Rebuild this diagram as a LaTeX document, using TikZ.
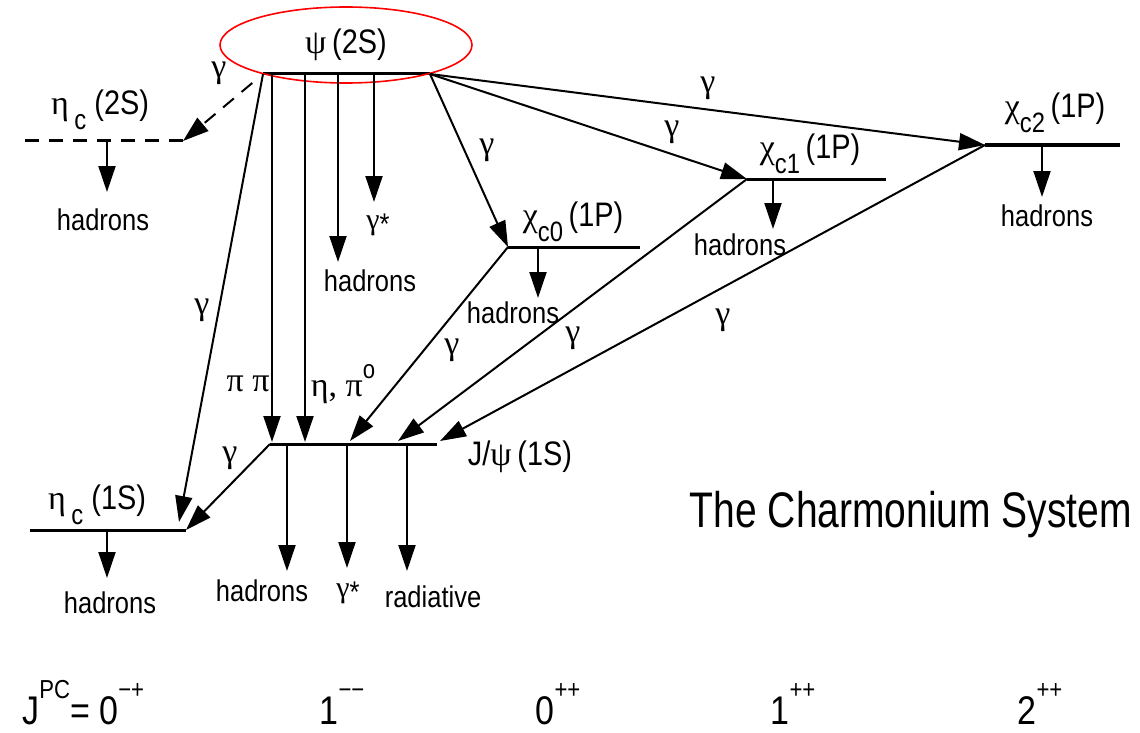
\documentclass[tikz,border=0pt]{standalone}
\usepackage{fontspec}
\setmainfont{Liberation Sans}[FakeStretch=0.85]
\newfontfamily\grk{Liberation Serif}
\newfontfamily\titlefont{Liberation Sans}[FakeStretch=0.78]
\usetikzlibrary{arrows.meta,shapes.geometric}

\newcommand{\gk}[1]{{\grk #1}}
\newcommand{\lo}[1]{\raisebox{-0.85ex}{\fontsize{14}{14}\selectfont #1}}
\newcommand{\hi}[1]{\raisebox{1.2ex}{\fontsize{13}{13}\selectfont #1}}
\newcommand{\virt}{\raisebox{-0.35ex}{*}}

\begin{document}
\begin{tikzpicture}[x=0.5pt,y=-0.5pt,
                    level/.style={line width=1.5pt},
                    decay/.style={line width=1pt,
                                  -{Triangle[length=13pt,width=8.5pt]}},
                    state/.style={inner sep=0pt,font=\fontsize{17}{20}\selectfont},
                    final/.style={inner sep=0pt,font=\fontsize{15}{18}\selectfont},
                    gam/.style={inner sep=0pt,font=\grk\fontsize{17}{20}\selectfont},
                    jpc/.style={inner sep=0pt,anchor=base,font=\fontsize{20}{24}\selectfont}]
  \useasboundingbox (0,0) rectangle (1140,733);

  % level ends
  \coordinate (psiL) at (263,74);   \coordinate (psiR) at (430,74);
  \coordinate (etaIIL) at (25,141); \coordinate (etaIIR) at (183,141);
  \coordinate (etaIL) at (30,530);  \coordinate (etaIR) at (186,530);
  \coordinate (jpsiL) at (270,444); \coordinate (jpsiR) at (437,444);
  \coordinate (chi0L) at (508,247); \coordinate (chi0R) at (640,247);
  \coordinate (chi1L) at (747,179); \coordinate (chi1R) at (886,179);
  \coordinate (chi2L) at (985,145); \coordinate (chi2R) at (1120,145);

  % levels
  \draw[level] (psiL) -- (psiR);
  \draw[level,dash pattern=on 7pt off 5pt] (etaIIL) -- (etaIIR);
  \draw[level] (etaIL) -- (etaIR);
  \draw[level] (jpsiL) -- (jpsiR);
  \draw[level] (chi0L) -- (chi0R);
  \draw[level] (chi1L) -- (chi1R);
  \draw[level] (chi2L) -- (chi2R);

  % state names
  \node[state,ellipse,draw=red,line width=0.8pt,
        minimum width=126pt,minimum height=38pt] (psi) at (346,45)
       {\gk{ψ}\,(2S)};
  \node[state] (etaII) at (100,110) {\gk{η}\,\lo{c} (2S)};
  \node[state] (etaI) at (97,505) {\gk{η}\,\lo{c} (1S)};
  \node[state] (jpsi) at (520,457) {J/\gk{ψ}\,(1S)};
  \node[state] (chi0) at (573,222) {\gk{χ}\lo{c0}\,(1P)};
  \node[state] (chi1) at (810,154) {\gk{χ}\lo{c1}\,(1P)};
  \node[state] (chi2) at (1055,113) {\gk{χ}\lo{c2}\,(1P)};

  % radiative transitions
  \coordinate (etaIg) at (179,522);
  \coordinate (jpsiA) at (350,441);
  \coordinate (jpsiB) at (398,441);
  \coordinate (jpsiC) at (440,441);
  \draw[decay,dash pattern=on 7pt off 5pt,shorten <=7pt] (psiL) -- (etaIIR);
  \draw[decay] (psiL) -- (etaIg);
  \draw[decay] (psiR) -- (chi0L);
  \draw[decay] (psiR) -- (chi1L);
  \draw[decay] (psiR) -- (chi2L);
  \draw[decay] (chi0L) -- (jpsiA);
  \draw[decay] (chi1L) -- (jpsiB);
  \draw[decay] (chi2L) -- (jpsiC);
  \draw[decay] (jpsiL) -- (etaIR);
  \node[gam] (g1) at (219,73) {γ};
  \node[gam] (g2) at (202,310) {γ};
  \node[gam] (g3) at (487,150) {γ};
  \node[gam] (g4) at (672,132) {γ};
  \node[gam] (g5) at (708,88) {γ};
  \node[gam] (g6) at (452,350) {γ};
  \node[gam] (g7) at (573,338) {γ};
  \node[gam] (g8) at (723,320) {γ};
  \node[gam] (g9) at (230,458) {γ};

  % hadronic transitions psi(2S) -> J/psi
  \coordinate (pipiT) at (272,74);  \coordinate (pipiB) at (272,442);
  \coordinate (etapiT) at (305,74); \coordinate (etapiB) at (305,442);
  \draw[decay] (pipiT) -- (pipiB);
  \draw[decay] (etapiT) -- (etapiB);
  \node[gam] (pipi) at (248,384) {π π};
  \node[gam] (etapi) at (343,384) {η, π\hi{\rmfamily o}};

  % decays
  \coordinate (psiHT) at (338,74);   \coordinate (psiHB) at (338,262);
  \coordinate (psiGT) at (374,74);   \coordinate (psiGB) at (374,202);
  \coordinate (etaIIHT) at (107,142); \coordinate (etaIIHB) at (107,192);
  \coordinate (etaIHT) at (107,531);  \coordinate (etaIHB) at (107,578);
  \coordinate (chi0HT) at (538,248);  \coordinate (chi0HB) at (538,298);
  \coordinate (chi1HT) at (773,180);  \coordinate (chi1HB) at (773,229);
  \coordinate (chi2HT) at (1042,146); \coordinate (chi2HB) at (1042,197);
  \coordinate (jpsiHT) at (287,445);  \coordinate (jpsiHB) at (287,571);
  \coordinate (jpsiGT) at (347,445);  \coordinate (jpsiGB) at (347,568);
  \coordinate (jpsiRT) at (407,445);  \coordinate (jpsiRB) at (407,571);
  \draw[decay] (psiHT) -- (psiHB);
  \draw[decay] (psiGT) -- (psiGB);
  \draw[decay] (etaIIHT) -- (etaIIHB);
  \draw[decay] (etaIHT) -- (etaIHB);
  \draw[decay] (chi0HT) -- (chi0HB);
  \draw[decay] (chi1HT) -- (chi1HB);
  \draw[decay] (chi2HT) -- (chi2HB);
  \draw[decay] (jpsiHT) -- (jpsiHB);
  \draw[decay] (jpsiGT) -- (jpsiGB);
  \draw[decay] (jpsiRT) -- (jpsiRB);
  \node[final] (psiH) at (370,281) {hadrons};
  \node[final] (psiG) at (378,225) {\gk{γ}\virt};
  \node[final] (etaIIH) at (103,220) {hadrons};
  \node[final] (etaIH) at (110,603) {hadrons};
  \node[final] (chi0H) at (513,313) {hadrons};
  \node[final] (chi1H) at (740,245) {hadrons};
  \node[final] (chi2H) at (1047,216) {hadrons};
  \node[final] (jpsiH) at (262,591) {hadrons};
  \node[final] (jpsiG) at (348,593) {\gk{γ}\virt};
  \node[final] (jpsiR) at (433,597) {radiative};

  % title and quantum numbers
  \node[inner sep=0pt,font=\titlefont\fontsize{25}{30}\selectfont] (title) at (911,515)
       {The Charmonium System};
  \node[jpc,anchor=base west] (jpc0m) at (22,724) {J\hi{PC}= 0\hi{−+}};
  \node[jpc] (jpc1m) at (342,724) {1\hi{−−}};
  \node[jpc] (jpc0p) at (558,724) {0\hi{++}};
  \node[jpc] (jpc1p) at (793,724) {1\hi{++}};
  \node[jpc] (jpc2p) at (1040,724) {2\hi{++}};
\end{tikzpicture}
\end{document}
